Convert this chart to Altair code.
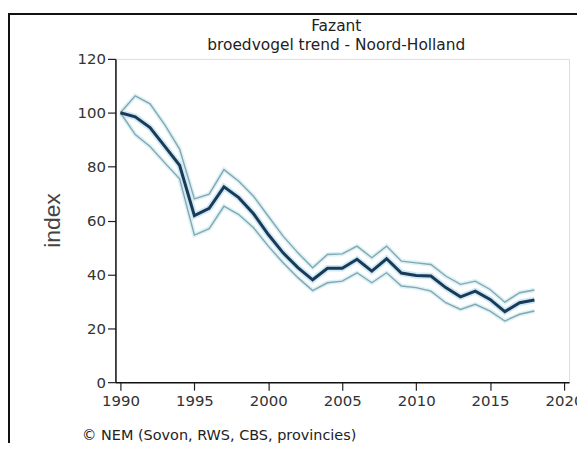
import altair as alt
import pandas as pd

years = list(range(1990, 2019))
index_vals = [100, 98.5, 94.5, 87.5, 80.5, 61.8, 64.5, 72.5, 68.5, 62.5,
              54.8, 48.0, 42.5, 38.0, 42.3, 42.3, 45.6, 41.2, 45.8, 40.5,
              39.6, 39.4, 35.1, 31.7, 33.8, 30.7, 26.2, 29.5, 30.5]
upper_vals = [100, 106.3, 103.3, 95.5, 86.5, 68.0, 69.8, 78.9, 74.6, 69.0,
              61.6, 54.2, 48.0, 42.5, 47.4, 47.6, 50.5, 46.2, 50.5, 44.9,
              44.3, 43.7, 39.4, 36.3, 37.5, 34.4, 29.7, 33.2, 34.2]
lower_vals = [100, 91.9, 87.5, 81.4, 75.5, 54.6, 57.0, 65.3, 62.2, 57.3,
              50.5, 44.3, 38.8, 34.0, 36.9, 37.5, 40.6, 36.9, 40.6, 35.7,
              35.1, 33.8, 29.5, 27.0, 28.9, 26.4, 22.7, 25.2, 26.4]
x_ticks = [1990, 1995, 2000, 2005, 2010, 2015, 2020]
y_ticks = [0, 20, 40, 60, 80, 100, 120]
title_lines = ["Fazant", "broedvogel trend - Noord-Holland"]
credit = "\u00a9 NEM (Sovon, RWS, CBS, provincies)"

df = pd.DataFrame({"year": years, "index": index_vals,
                   "upper": upper_vals, "lower": lower_vals})

FONT = "DejaVu Sans"

xenc = alt.X("year:Q",
             scale=alt.Scale(domain=[1989.66, 2020.34], nice=False, zero=False),
             axis=alt.Axis(values=x_ticks, format="d", grid=False,
                           tickSize=8, tickColor="#222", tickWidth=1.2,
                           domainColor="#111", domainWidth=1.5,
                           labelFont=FONT, labelFontSize=15, labelColor="#333",
                           labelPadding=3,
                           title=credit, titleFont=FONT, titleFontSize=14.5,
                           titleFontWeight="normal", titleColor="#222",
                           titleAnchor="start", titleAlign="left",
                           titleX=-34, titleY=54, titleBaseline="middle"))

yscale = alt.Scale(domain=[0, 120], nice=False)
yaxis = alt.Axis(values=y_ticks, grid=False, tickSize=8, tickColor="#222",
                 tickWidth=1.2, domainColor="#111", domainWidth=1.5,
                 labelFont=FONT, labelFontSize=15, labelColor="#333",
                 labelPadding=2,
                 title="index", titleFont="Liberation Sans", titleFontSize=23,
                 titleFontWeight="normal", titleColor="#444",
                 titleX=-63, titleY=162, titleAngle=-90,
                 titleAlign="center", titleBaseline="middle")

base = alt.Chart(df)

halo_bounds = []
for col in ["upper", "lower"]:
    halo_bounds.append(base.mark_line(color="#dcf1f8", strokeWidth=4.5).encode(
        x=xenc, y=alt.Y(f"{col}:Q", scale=yscale, axis=yaxis)))
bounds = []
for col in ["upper", "lower"]:
    bounds.append(base.mark_line(color="#84a8ad", strokeWidth=1.4).encode(
        x=xenc, y=alt.Y(f"{col}:Q", scale=yscale, axis=yaxis)))

main_halo = base.mark_line(color="#cfeaf5", strokeWidth=6.5).encode(
    x=xenc, y=alt.Y("index:Q", scale=yscale, axis=yaxis))
main = base.mark_line(color="#1b3a57", strokeWidth=3).encode(
    x=xenc, y=alt.Y("index:Q", scale=yscale, axis=yaxis))

frame = alt.Chart(alt.Data(values=[{"f": 1}])).mark_rect(
    fill=None, fillOpacity=0, stroke="#111", strokeWidth=2).encode(
    x=alt.value(-107), x2=alt.value(490), y=alt.value(-45), y2=alt.value(430))

title_mark = alt.Chart(alt.Data(values=[{"t": "\n".join(title_lines)}])).mark_text(
    font=FONT, fontSize=15.5, color="#222", align="center", baseline="middle",
    lineBreak="\n", lineHeight=19).encode(
    text="t:N", x=alt.value(222), y=alt.value(-33))

chart = alt.layer(frame, *halo_bounds, main_halo, *bounds, main, title_mark).properties(
    width=456, height=325,
    autosize=alt.AutoSizeParams(type="none"),
    padding={"left": 108, "top": 50, "right": 8, "bottom": 60},
).configure_view(stroke="#111", strokeWidth=1.5).configure(background="white")

chart.save("out.html", embed_options={"renderer": "svg", "actions": False})
